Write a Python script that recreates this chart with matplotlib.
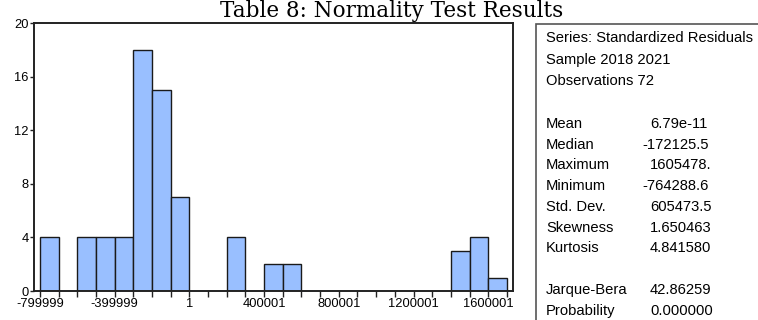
import matplotlib
matplotlib.use("Agg")
import matplotlib.pyplot as plt
from matplotlib.patches import Rectangle
import numpy as np

# Data
bin_starts = [-800000, -700000, -600000, -500000, -400000, -300000, -200000, -100000,
              0, 100000, 200000, 300000, 400000, 500000, 600000, 700000, 800000,
              900000, 1000000, 1100000, 1200000, 1300000, 1400000, 1500000, 1600000]
counts = [4, 0, 4, 4, 4, 18, 15, 7, 0, 0, 4, 0, 2, 2, 0, 0, 0, 0, 0, 0, 0, 0, 3, 4, 1]
bin_width = 100000
x_tick_vals = [-800000, -400000, 0, 400000, 800000, 1200000, 1600000]
x_tick_labels = ["-799999", "-399999", "1", "400001", "800001", "1200001", "1600001"]
y_ticks = [0, 4, 8, 12, 16, 20]

title = "Table 8: Normality Test Results"
stat_header = ["Series: Standardized Residuals", "Sample 2018 2021", "Observations 72"]
stat_names = ["Mean", "Median", "Maximum", "Minimum", "Std. Dev.", "Skewness", "Kurtosis"]
stat_values = ["6.79e-11", "-172125.5", "1605478.", "-764288.6", "605473.5", "1.650463", "4.841580"]
test_names = ["Jarque-Bera", "Probability"]
test_values = ["42.86259", "0.000000"]

W, H = 758, 320
fig = plt.figure(figsize=(W / 100, H / 100), dpi=100)
fig.patch.set_facecolor("white")

ax = fig.add_axes([34 / W, 1 - 291 / H, (512.7 - 34) / W, (291 - 23) / H])
starts = np.array(bin_starts)
cnts = np.array(counts)
mask = cnts > 0
ax.bar(starts[mask], cnts[mask], width=bin_width, align="edge",
       color="#99bfff", edgecolor="#1a1a1a", linewidth=1.0)
ax.set_xlim(-832000, 1731000)
ax.set_ylim(0, 20)
ax.set_yticks(y_ticks)
ax.set_yticklabels([str(v) for v in y_ticks])
ax.set_xticks(x_tick_vals)
ax.set_xticklabels(x_tick_labels)
ax.set_xticks(np.arange(-800000, 1700001, 100000), minor=True)
ax.tick_params(axis="x", which="both", direction="out", length=4, width=1, color="#222222")
ax.tick_params(axis="x", which="major", labelsize=9.3, pad=1)
ax.tick_params(axis="y", direction="out", length=3, width=1, labelsize=9.3, pad=1, color="#222222")
for lab in ax.get_xticklabels() + ax.get_yticklabels():
    lab.set_family("Liberation Sans")
for s in ax.spines.values():
    s.set_linewidth(1.4)
    s.set_color("#222222")

fig.text(392 / W, 1 - 17.5 / H, title, ha="center", va="baseline",
         family="DejaVu Serif", fontsize=15.5)

# stats box
fig.patches.append(Rectangle((535.5 / W, -0.1), 0.5, 1 - 23.5 / H + 0.1,
                             transform=fig.transFigure, fill=False,
                             edgecolor="#555555", linewidth=1.2))
fs = 10.6
lx = 546 / W
for i, t in enumerate(stat_header):
    fig.text(lx, 1 - (38 + i * 21.7) / H, t, ha="left", va="center",
             family="Liberation Sans", fontsize=fs)
for i, (n, v) in enumerate(zip(stat_names, stat_values)):
    yy = 1 - (124 + i * 20.7) / H
    fig.text(lx, yy, n, ha="left", va="center", family="Liberation Sans", fontsize=fs)
    vx = (642 if v.startswith("-") else 650) / W
    fig.text(vx, yy, v, ha="left", va="center", family="Liberation Sans", fontsize=fs)
for i, (n, v) in enumerate(zip(test_names, test_values)):
    yy = 1 - (290 + i * 20.7) / H
    fig.text(lx, yy, n, ha="left", va="center", family="Liberation Sans", fontsize=fs)
    fig.text(650 / W, yy, v, ha="left", va="center", family="Liberation Sans", fontsize=fs)

fig.savefig("out.png", dpi=100)
